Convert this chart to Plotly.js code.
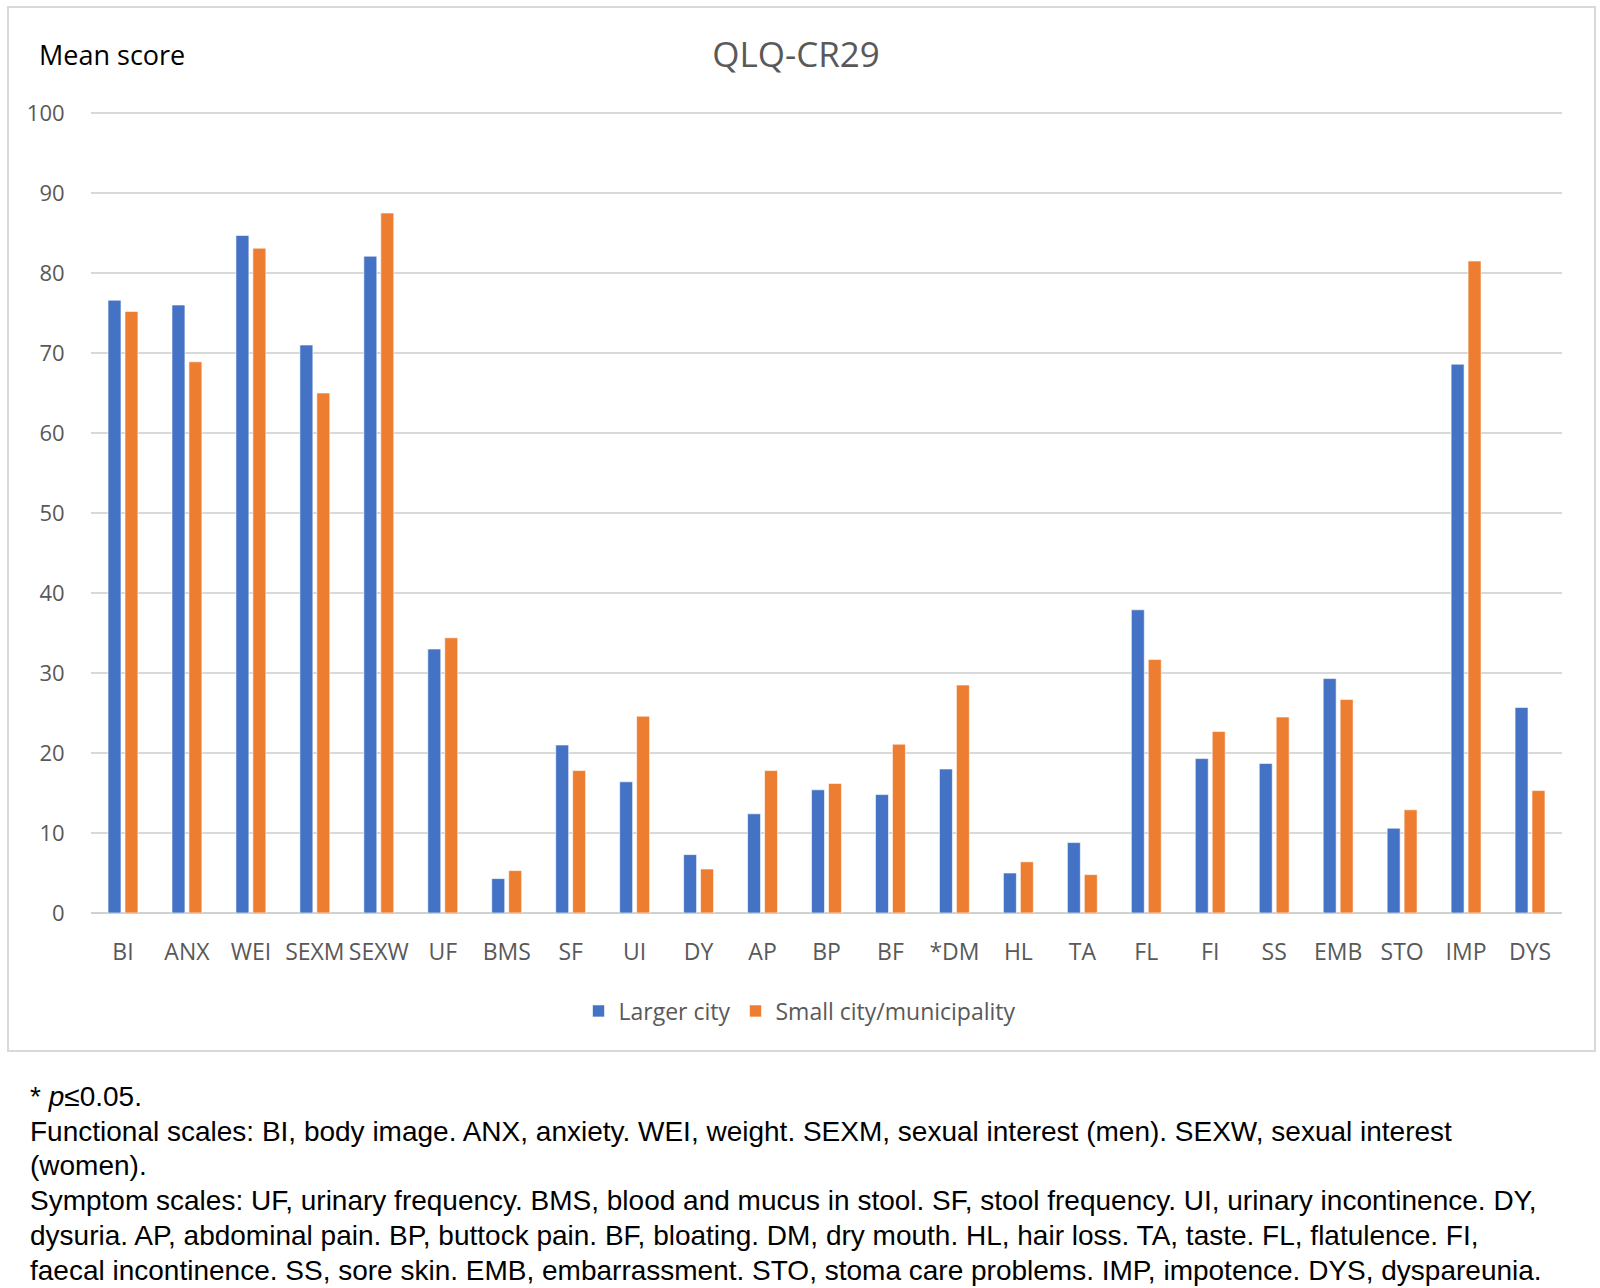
<!DOCTYPE html>
<html>
<head>
<meta charset="utf-8">
<script src="https://cdn.plot.ly/plotly-3.0.1.min.js"></script>
<style>
  html, body { margin: 0; padding: 0; background: #ffffff; }
  #chart { width: 1600px; height: 1288px; }
</style>
</head>
<body>
<div id="chart"></div>
<script>
// ---- Data ----
const categories = ["BI","ANX","WEI","SEXM","SEXW","UF","BMS","SF","UI","DY","AP","BP","BF","*DM","HL","TA","FL","FI","SS","EMB","STO","IMP","DYS"];
const largerCity = [76.6, 76.0, 84.7, 71.0, 82.1, 33.0, 4.3, 21.0, 16.4, 7.3, 12.4, 15.4, 14.8, 18.0, 5.0, 8.8, 37.9, 19.3, 18.7, 29.3, 10.6, 68.6, 25.7];
const smallCity  = [75.2, 68.9, 83.1, 65.0, 87.5, 34.4, 5.3, 17.8, 24.6, 5.5, 17.8, 16.2, 21.1, 28.5, 6.4, 4.8, 31.7, 22.7, 24.5, 26.7, 12.9, 81.5, 15.3];
const seriesNames = ["Larger city", "Small city/municipality"];
const yTicks = [0, 10, 20, 30, 40, 50, 60, 70, 80, 90, 100];
const footnotes = [
  "* <i>p</i>≤0.05.",
  "Functional scales: BI, body image. ANX, anxiety. WEI, weight. SEXM, sexual interest (men). SEXW, sexual interest",
  "(women).",
  "Symptom scales: UF, urinary frequency. BMS, blood and mucus in stool. SF, stool frequency. UI, urinary incontinence. DY,",
  "dysuria. AP, abdominal pain. BP, buttock pain. BF, bloating. DM, dry mouth. HL, hair loss. TA, taste. FL, flatulence. FI,",
  "faecal incontinence. SS, sore skin. EMB, embarrassment. STO, stoma care problems. IMP, impotence. DYS, dyspareunia."
];

// ---- Layout geometry (pixels) ----
const W = 1600, H = 1288;
const yMax = 101;                 // a little headroom so the 100 gridline is drawn
const unitPx = 8;                 // pixels per score unit
const plotL = 91, plotR = 1562, plotB = 913, plotT = plotB - yMax * unitPx;
const pw = plotR - plotL, ph = plotB - plotT;
const px = x => (x - plotL) / pw;
const py = y => (plotB - y) / ph;

const chartFont = "'Open Sans', 'Noto Sans', sans-serif";
const noteFont = "'Liberation Sans', Arial, sans-serif";

const traces = [
  { type: "bar", name: seriesNames[0], x: categories, y: largerCity,
    marker: { color: "#4472C4", line: { color: "rgba(255,255,255,0.6)", width: 1 } } },
  { type: "bar", name: seriesNames[1], x: categories, y: smallCity,
    marker: { color: "#ED7D31", line: { color: "rgba(255,255,255,0.6)", width: 1 } } }
];

const noteY = [1096, 1131, 1165, 1200, 1235, 1270];
const annotations = [
  { text: "Mean score", xref: "paper", yref: "paper", x: px(37), y: py(54),
    xanchor: "left", yanchor: "middle", showarrow: false,
    font: { family: chartFont, size: 27, color: "#000000" } }
];
footnotes.forEach((t, i) => {
  annotations.push({ text: t, xref: "paper", yref: "paper", x: px(28), y: py(noteY[i]),
    xanchor: "left", yanchor: "middle", showarrow: false, align: "left",
    font: { family: noteFont, size: 28, color: "#000000" } });
});

const layout = {
  width: W, height: H,
  margin: { l: plotL, r: W - plotR, t: plotT, b: H - plotB, pad: 0 },
  paper_bgcolor: "#ffffff", plot_bgcolor: "#ffffff",
  font: { family: chartFont, color: "#595959" },
  title: { text: "QLQ-CR29", x: 796 / W, xref: "container", xanchor: "center",
           y: 1 - 55 / H, yref: "container", yanchor: "middle",
           font: { family: chartFont, size: 35, color: "#595959" } },
  barmode: "group", bargap: 0.47, bargroupgap: 0.235,
  xaxis: { type: "category", tickangle: 0, showgrid: false, zeroline: false,
           showline: false, ticks: "outside", ticklen: 18, tickcolor: "rgba(0,0,0,0)",
           tickfont: { family: chartFont, size: 23, color: "#595959" }, fixedrange: true },
  yaxis: { range: [0, yMax], tickvals: yTicks, ticktext: yTicks.map(String),
           showgrid: true, gridcolor: "#d9d9d9", gridwidth: 2,
           zeroline: true, zerolinecolor: "#d0d0d0", zerolinewidth: 2,
           showline: false, ticks: "outside", ticklen: 21, tickcolor: "rgba(0,0,0,0)",
           tickfont: { family: chartFont, size: 22, color: "#595959" }, fixedrange: true },
  showlegend: true,
  legend: { orientation: "h", x: px(800), xanchor: "center", y: py(1011), yanchor: "middle",
            font: { family: chartFont, size: 23, color: "#595959" },
            itemwidth: 30, traceorder: "normal", bgcolor: "rgba(0,0,0,0)" },
  shapes: [
    { type: "rect", xref: "paper", yref: "paper",
      x0: px(8), x1: px(1595), y0: py(1051), y1: py(7),
      line: { color: "#d9d9d9", width: 2 }, fillcolor: "rgba(0,0,0,0)", layer: "below" }
  ],
  annotations: annotations
};

Plotly.newPlot("chart", traces, layout, { displayModeBar: false, staticPlot: true });
</script>
</body>
</html>
